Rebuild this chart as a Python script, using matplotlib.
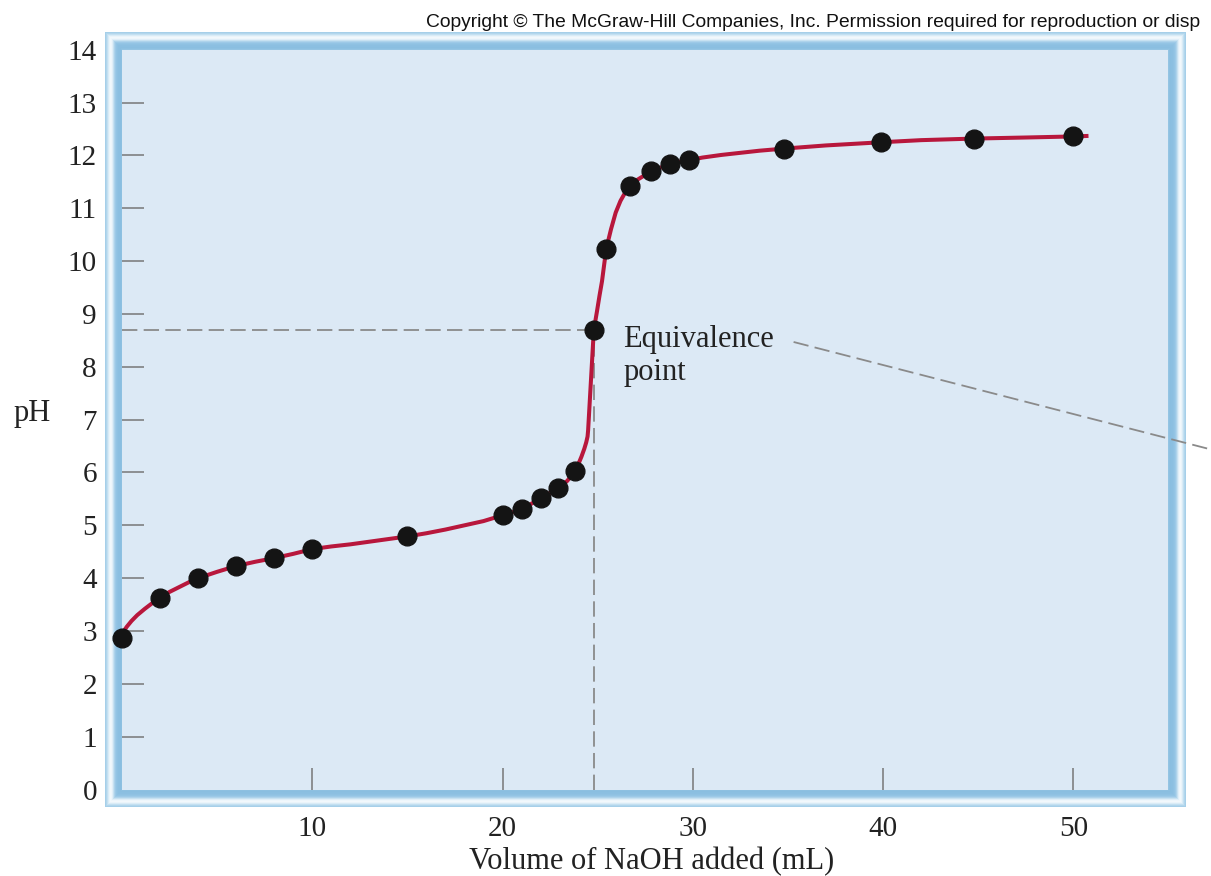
import numpy as np
import matplotlib
matplotlib.use('Agg')
import matplotlib.pyplot as plt
from matplotlib.patches import Rectangle

# ---------------------------------------------------------------------------
# Data
# ---------------------------------------------------------------------------

# measured points (volume of NaOH in mL, pH)
vol_pts = [0, 2, 4, 6, 8, 10, 15, 20, 21, 22, 22.9, 23.8, 24.8, 25.45,
           26.7, 27.8, 28.8, 29.8, 34.8, 39.9, 44.8, 50.0]
ph_pts = [2.87, 3.63, 4.00, 4.23, 4.38, 4.55, 4.79, 5.19, 5.30, 5.51, 5.70,
          6.02, 8.70, 10.23, 11.43, 11.70, 11.83, 11.91, 12.13, 12.25,
          12.32, 12.36]

# red curve
vol_curve = [0, 0.1, 0.25, 0.5, 0.8, 1.2, 1.6, 2.0, 2.5, 3.0, 3.5, 4.0, 5.0,
             6.0, 7.0, 8.0, 9.0, 10.0, 11.0, 12.0, 13.0, 14.0, 15.0, 16.0,
             17.0, 18.0, 19.0, 20.0, 21.0, 22.0, 22.9, 23.4, 23.8, 24.0,
             24.15, 24.3, 24.4, 24.47, 24.5, 24.65, 24.8, 24.97, 25.1, 25.23,
             25.45, 25.7, 25.95, 26.2, 26.45, 26.7, 27.0, 27.4, 27.8, 28.3,
             28.8, 29.3, 29.8, 30.5, 31.5, 32.5, 33.5, 34.8, 37.0, 39.9,
             42.0, 44.8, 47.5, 50.0, 50.8]
ph_curve = [2.92, 3.00, 3.08, 3.19, 3.30, 3.42, 3.53, 3.63, 3.74, 3.83, 3.92,
            4.00, 4.12, 4.23, 4.31, 4.38, 4.46, 4.55, 4.60, 4.64, 4.69, 4.74,
            4.79, 4.85, 4.92, 5.00, 5.08, 5.19, 5.30, 5.51, 5.70, 5.84, 6.02,
            6.17, 6.30, 6.45, 6.57, 6.68, 6.80, 7.75, 8.70, 9.06, 9.35, 9.62,
            10.23, 10.60, 10.92, 11.14, 11.30, 11.43, 11.52, 11.61, 11.70,
            11.77, 11.83, 11.88, 11.91, 11.96, 12.01, 12.05, 12.09, 12.13,
            12.19, 12.25, 12.29, 12.32, 12.34, 12.36, 12.37]

eq_vol = 24.8
eq_ph = 8.70
pointer_x = [35.3, 57.3]
pointer_y = [8.47, 6.43]

x_ticks = [10, 20, 30, 40, 50]
y_ticks = list(range(0, 15))

# ---------------------------------------------------------------------------
# Figure
# ---------------------------------------------------------------------------

W, H = 1211, 876
fig = plt.figure(figsize=(W / 100, H / 100), dpi=100)

left, right, top, bottom = 122, 1168.4, 49.8, 789.5
ax = fig.add_axes([left / W, 1 - bottom / H, (right - left) / W, (bottom - top) / H])
ax.set_facecolor('#dce9f5')

# blue bevelled frame round the plot area, drawn in pixel coords
band = ['#a6cfe9', '#b2d6ec', '#c4e0f1', '#d9ebf6', '#eaf4fa', '#f2f8fc',
        '#eef6fb', '#e0eef8', '#c7e1f1', '#aed3eb', '#9dc9e7', '#93c4e4',
        '#8fc1e2', '#8cbfe1', '#8bbfe1', '#8abee0', '#8dc0e1', '#94c4e3']
ox0, oy0, ox1, oy1 = 105, 32, 1186, 807
for i, c in enumerate(band):
    r = Rectangle((ox0 + i, H - oy1 + i), (ox1 - ox0) - 2 * i, (oy1 - oy0) - 2 * i,
                  transform=None, facecolor=c, edgecolor='none', zorder=-5 + i * 0.01)
    fig.patches.append(r)

ax.set_xlim(0, 55)
ax.set_ylim(0, 14)
for s in ax.spines.values():
    s.set_visible(False)

serif = ['Liberation Serif', 'DejaVu Serif']
ax.set_xticks(x_ticks)
ax.set_yticks(y_ticks)
ax.tick_params(axis='x', direction='in', length=16, width=1.1, color='#777777',
               pad=19, labelsize=21, labelcolor='#222222')
ax.tick_params(axis='y', direction='in', length=16, width=1.1, color='#777777',
               pad=18, labelsize=21, labelcolor='#222222')
for lab in ax.get_xticklabels() + ax.get_yticklabels():
    lab.set_family(serif)
# hide tick marks at the frame edges (0 and 14)
for t in ax.yaxis.get_major_ticks():
    if t.get_loc() in (0, 14):
        t.tick1line.set_visible(False)

dash_style = dict(color='#8a8a8a', lw=1.3, dashes=(8.5, 3.5))
ax.plot([0, eq_vol], [eq_ph, eq_ph], **dash_style, zorder=2)
ax.plot([eq_vol, eq_vol], [0, eq_ph], **dash_style, zorder=2)
ax.plot(pointer_x, pointer_y, **dash_style, zorder=6, clip_on=False)

ax.plot(vol_curve, ph_curve, color='#b8173c', lw=2.9, zorder=3,
        solid_capstyle='butt', solid_joinstyle='round')
ax.plot(vol_pts, ph_pts, 'o', color='#141414', ms=13.5, zorder=4, clip_on=False)

ax.text(26.35, eq_ph + 0.1, 'Equivalence\npoint', family=serif, fontsize=22,
        color='#222222', ha='left', va='top', linespacing=1.2, zorder=5)

fig.text(32 / W, 1 - 413 / H, 'pH', family=serif, fontsize=22, color='#222222',
         ha='center', va='center')
fig.text(652 / W, 1 - 862 / H, 'Volume of NaOH added (mL)', family=serif,
         fontsize=22, color='#222222', ha='center', va='center')
# the reference shows this line cut off at the right edge
fig.text(426 / W, 1 - 27 / H,
         'Copyright \u00a9 The McGraw-Hill Companies, Inc. Permission required '
         'for reproduction or disp',
         family=['Liberation Sans', 'DejaVu Sans'], fontsize=13.9,
         color='#111111', ha='left', va='baseline')

fig.savefig('out.png', dpi=100)
